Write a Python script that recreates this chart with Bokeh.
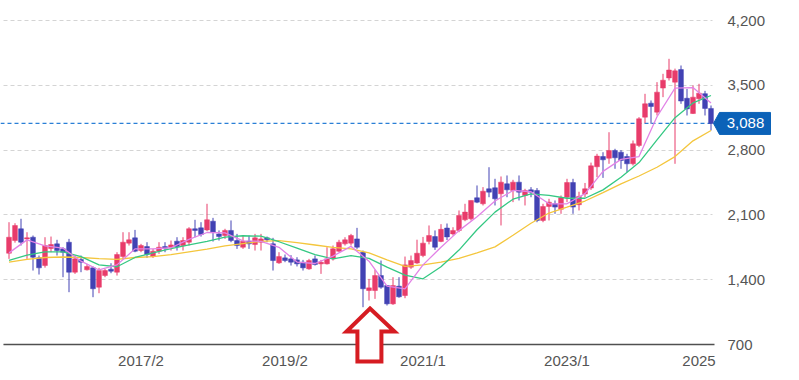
import pandas as pd
from bokeh.plotting import figure
from bokeh.models import (ColumnDataSource, FixedTicker, NumeralTickFormatter,
                          PolyAnnotation, Label)
from bokeh.embed import file_html
from bokeh.resources import INLINE

# ---------------- data (monthly candles, first month 2015/4) ----------------
start_month = "2015-04"
opens = [1686, 1823, 1950, 1840, 1859, 1636, 1553, 1737, 1787, 1733,
         1805, 1481, 1618, 1507, 1528, 1319, 1445, 1514, 1481, 1650,
         1795, 1852, 1715, 1758, 1650, 1708, 1758, 1751, 1816, 1769,
         1805, 1950, 1960, 1938, 2032, 1895, 1877, 1932, 1823, 1751,
         1816, 1780, 1805, 1852, 1787, 1582, 1636, 1625, 1614, 1589,
         1517, 1625, 1571, 1571, 1625, 1708, 1787, 1795, 1841, 1697,
         1283, 1283, 1445, 1337, 1139, 1330, 1229, 1535, 1580, 1661,
         1814, 1866, 1814, 1958, 1895, 1932, 2047, 2058, 2285, 2220,
         2382, 2393, 2328, 2436, 2364, 2454, 2310, 2371, 2364, 2040,
         2191, 2220, 2160, 2292, 2450, 2210, 2325, 2390, 2620, 2731,
         2712, 2796, 2778, 2731, 2652, 2850, 3156, 3307, 3210, 3470,
         3580, 3534, 3670, 3360, 3195, 3354, 3410, 3250]
highs = [2021, 2010, 2058, 1913, 1877, 1661, 1859, 1866, 1831, 1751,
         1841, 1661, 1661, 1571, 1543, 1528, 1517, 1578, 1697, 1913,
         1913, 1938, 1787, 1805, 1733, 1805, 1805, 1823, 1859, 1859,
         1967, 2047, 2021, 2220, 2068, 1932, 1950, 2040, 1895, 1877,
         1877, 1895, 1895, 1866, 1852, 1697, 1672, 1665, 1643, 1614,
         1625, 1661, 1614, 1751, 1769, 1831, 1859, 1895, 1960, 1715,
         1409, 1507, 1607, 1337, 1427, 1427, 1650, 1661, 1832, 1862,
         1986, 1932, 2000, 2007, 1967, 2148, 2220, 2256, 2418, 2400,
         2615, 2490, 2515, 2526, 2479, 2526, 2382, 2400, 2390, 2220,
         2274, 2256, 2310, 2490, 2490, 2350, 2445, 2665, 2760, 2777,
         2993, 2814, 2800, 2760, 2904, 3156, 3408, 3336, 3534, 3624,
         3786, 3680, 3714, 3460, 3498, 3516, 3440, 3282]
lows = [1625, 1800, 1769, 1625, 1499, 1456, 1530, 1697, 1661, 1427,
        1265, 1463, 1481, 1499, 1211, 1254, 1427, 1470, 1445, 1625,
        1769, 1697, 1697, 1636, 1636, 1679, 1697, 1715, 1715, 1715,
        1769, 1859, 1866, 1924, 1812, 1823, 1841, 1805, 1733, 1733,
        1733, 1715, 1715, 1805, 1499, 1571, 1589, 1553, 1543, 1499,
        1507, 1553, 1463, 1564, 1607, 1697, 1769, 1769, 1733, 1103,
        1175, 1193, 1302, 1121, 1128, 1205, 1200, 1517, 1571, 1643,
        1782, 1722, 1805, 1828, 1877, 1913, 2032, 2040, 2227, 2202,
        2291, 2202, 1986, 2291, 2238, 2256, 2202, 2291, 2021, 2021,
        2040, 2112, 2112, 2238, 2112, 2148, 2290, 2370, 2507, 2500,
        2652, 2598, 2598, 2561, 2634, 2832, 3091, 3084, 3174, 3372,
        3552, 2652, 3300, 3174, 3190, 3300, 3174, 3012]
closes = [1859, 1985, 1805, 1853, 1643, 1528, 1769, 1780, 1715, 1697,
          1481, 1625, 1589, 1543, 1302, 1499, 1499, 1492, 1672, 1805,
          1831, 1708, 1769, 1672, 1708, 1751, 1740, 1776, 1758, 1823,
          1950, 1932, 1888, 2047, 1913, 1866, 1932, 1823, 1769, 1816,
          1787, 1852, 1841, 1831, 1607, 1650, 1607, 1589, 1571, 1528,
          1607, 1564, 1589, 1625, 1733, 1805, 1831, 1877, 1751, 1302,
          1312, 1445, 1319, 1139, 1337, 1215, 1560, 1607, 1686, 1795,
          1877, 1751, 1944, 1862, 1932, 2094, 2130, 2256, 2238, 2356,
          2346, 2274, 2454, 2371, 2454, 2346, 2364, 2346, 2040, 2191,
          2238, 2184, 2285, 2450, 2184, 2300, 2382, 2630, 2735, 2695,
          2796, 2717, 2688, 2652, 2868, 3138, 3300, 3271, 3426, 3555,
          3665, 3656, 3330, 3245, 3372, 3415, 3250, 3088]

months = [f"{p.year}/{p.month}" for p in pd.period_range(start_month, periods=len(opens), freq="M")]

# moving averages, every third month
ma_months = months[::3]
ma_short = [1690, 1830, 1765, 1740, 1600, 1505, 1560, 1733, 1733, 1745,
            1835, 1910, 1905, 1820, 1815, 1750, 1590, 1575, 1655, 1760,
            1600, 1330, 1300, 1560, 1750, 1930, 2080, 2250, 2364, 2350,
            2220, 2220, 2330, 2570, 2700, 2730, 3160, 3470, 3475, 3310]
ma_mid = [1610, 1665, 1700, 1700, 1650, 1560, 1540, 1640, 1690, 1735,
          1775, 1815, 1860, 1875, 1870, 1810, 1740, 1670, 1625, 1661,
          1630, 1535, 1450, 1410, 1540, 1720, 1940, 2130, 2270, 2328,
          2310, 2280, 2280, 2370, 2507, 2665, 2910, 3150, 3310, 3390]
ma_long = [1590, 1620, 1640, 1645, 1640, 1628, 1620, 1640, 1650, 1670,
           1700, 1730, 1765, 1790, 1815, 1823, 1800, 1775, 1750, 1733,
           1690, 1615, 1545, 1560, 1590, 1630, 1690, 1755, 1880, 2010,
           2120, 2184, 2250, 2340, 2436, 2520, 2615, 2730, 2900, 3012]

last_price = 3088
y_ticks = [700, 1400, 2100, 2800, 3500, 4200]
x_tick_months = ["2017/2", "2019/2", "2021/1", "2023/1", "2025/1"]
x_tick_labels = ["2017/2", "2019/2", "2021/1", "2023/1", "2025"]
arrow_month = "2020/4"

# ---------------- styling ----------------
UP = "#e83c6b"
DOWN = "#4242b4"
FONT = "Liberation Sans"
TAG = "#0b62b8"
PRICE_LINE = "#2a7fd6"

idx = list(range(len(opens)))
colors = [UP if c >= o else DOWN for o, c in zip(opens, closes)]
src = ColumnDataSource(dict(
    x=idx, top=[max(o, c) for o, c in zip(opens, closes)],
    bottom=[min(o, c) for o, c in zip(opens, closes)],
    high=highs, low=lows, color=colors))

n = len(opens)
PX_X = 6.0          # pixels per month
PX_Y = 324 / 3500   # pixels per price unit
y_base = y_ticks[0]


def xd(px):   # horizontal pixel -> month index
    return (px - 8.5) / PX_X


def yd(py):   # vertical pixel -> price
    return y_base + (344 - py) / PX_Y


FW, FH = 790, 372
p = figure(frame_width=FW, frame_height=FH,
           x_range=(xd(0), xd(FW)), y_range=(yd(FH), yd(0)),
           y_axis_location="right", output_backend="svg",
           toolbar_location=None,
           min_border_left=0, min_border_top=0, min_border_bottom=0,
           min_border_right=0)
p.outline_line_color = None
p.background_fill_color = "white"
p.border_fill_color = "white"

plot_left, plot_right = xd(3), xd(714)

# grid
p.xgrid.visible = False
g = p.ygrid[0]
g.ticker = FixedTicker(ticks=y_ticks)
g.grid_line_color = "#d4d4d4"
g.grid_line_dash = "4 3"
g.grid_line_width = 1
g.cross_bounds = (plot_left, xd(712))

# baseline at the lowest tick
p.segment(x0=[plot_left], y0=[y_base], x1=[plot_right], y1=[y_base],
          line_color="#505050", line_width=1.5)

# axes (kept in their panels, labels placed into the chart area)
xa = p.xaxis[0]
tick_pos = [months.index(m) for m in x_tick_months]
tick_pos[-1] = tick_pos[-1] - 2  # last label kept inside the frame, as in the original
xa.ticker = FixedTicker(ticks=tick_pos)
xa.major_label_overrides = {t: lab for t, lab in zip(tick_pos, x_tick_labels)}
xa.fixed_location = yd(376)
xa.axis_line_color = None
xa.major_tick_line_color = None
xa.minor_tick_line_color = None
xa.major_tick_in = 0
xa.major_tick_out = 0
xa.major_label_standoff = -25
xa.major_label_text_font = FONT
xa.major_label_text_font_size = "15px"
xa.major_label_text_color = "#555555"

ya = p.yaxis[0]
ya.ticker = FixedTicker(ticks=y_ticks)
ya.formatter = NumeralTickFormatter(format="0,0")
ya.fixed_location = xd(772)
ya.axis_line_color = None
ya.major_tick_line_color = None
ya.minor_tick_line_color = None
ya.major_tick_in = 0
ya.major_tick_out = 0
ya.major_label_standoff = -45
ya.major_label_text_font = FONT
ya.major_label_text_font_size = "15px"
ya.major_label_text_color = "#555555"

# last price line (under the candles)
p.line(x=[xd(0), xd(712)], y=[last_price, last_price],
       line_color=PRICE_LINE, line_alpha=1.0, line_dash="4 3", line_width=1.2)

# candles
p.segment(x0="x", y0="low", x1="x", y1="high", color="color", line_width=1, source=src)
p.vbar(x="x", width=0.8, top="top", bottom="bottom", fill_color="color",
       line_color="color", line_width=0.5, source=src)

# moving averages
ma_x = [months.index(m) for m in ma_months]
p.line(ma_x, ma_long, line_color="#f4c63d", line_width=1.3)
p.line(ma_x, ma_mid, line_color="#35c883", line_width=1.3)
p.line(ma_x, ma_short, line_color="#e283e6", line_width=1.3)

# price tag
tag_tip, tag_body, tag_right = xd(713), xd(719), xd(770)
half = 11 / PX_Y
p.add_layout(PolyAnnotation(
    xs=[tag_tip, tag_body, tag_right, tag_right, tag_body],
    ys=[last_price, last_price + half, last_price + half,
        last_price - half, last_price - half],
    fill_color=TAG, fill_alpha=1.0, line_color=TAG, line_alpha=1.0,
    line_width=1))
p.add_layout(Label(x=xd(745), y=last_price,
                   text=f"{last_price:,}", text_align="center",
                   text_baseline="middle", text_color="white",
                   text_font=FONT, text_font_size="15px"))

# red outlined up-arrow below the 2020 low
ax = months.index(arrow_month) + 0.17
p.add_layout(PolyAnnotation(
    xs=[ax, ax + 4.08, ax + 1.9, ax + 1.9, ax - 2.1, ax - 2.1, ax - 3.92],
    ys=[yd(308), yd(331), yd(331), yd(361), yd(361), yd(331), yd(331)],
    fill_color="white", fill_alpha=1.0, line_color="#d61c22", line_alpha=1.0,
    line_width=4, line_join="miter"))

open("out.html", "w").write(file_html(p, INLINE))
